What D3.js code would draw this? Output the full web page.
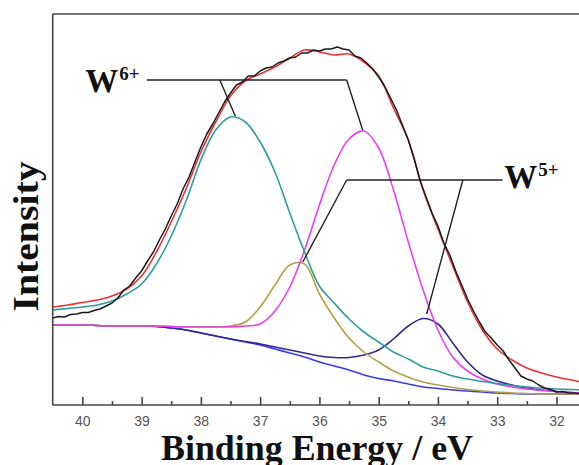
<!DOCTYPE html>
<html>
<head>
<meta charset="utf-8">
<script src="https://cdn.jsdelivr.net/npm/d3@7"></script>
<style>
  html, body { margin: 0; padding: 0; background: #fff; }
  svg { display: block; }
</style>
</head>
<body>
<svg id="chart" width="579" height="465"></svg>
<script>
// ---------- data (binding energy in eV, intensity in arbitrary units) ----------
const energy = [40.5, 40.25, 40.0, 39.75, 39.5, 39.25, 39.0, 38.75, 38.5, 38.25, 38.0, 37.75,
  37.5, 37.25, 37.0, 36.75, 36.5, 36.25, 36.0, 35.75, 35.5, 35.25, 35.0, 34.75, 34.5, 34.25,
  34.0, 33.75, 33.5, 33.25, 33.0, 32.75, 32.5, 32.25, 32.0, 31.75, 31.5];

const background = [80, 80, 80, 79.5, 79, 79, 79, 78.5, 77, 75, 72, 69, 66, 63, 60, 56, 52, 48,
  43, 39, 35, 30, 26.5, 24, 21, 18, 16.5, 15, 14, 13, 12, 11.5, 11, 11, 11, 11, 11];

// W5+ 4f5/2 component (navy)
const w5b = [80, 80, 80, 79.5, 79, 79, 79, 78.5, 77, 75, 72, 69, 66, 63.5, 61, 58, 55, 52, 49,
  47.5, 47.5, 50, 55, 66, 79, 86.5, 81, 62, 43, 30, 24, 20, 17, 15, 13.5, 12.5, 12];

// W5+ 4f7/2 component (olive)
const w5a = [80, 80, 80, 79.5, 79, 79, 79, 79, 78.5, 78, 78, 78, 79, 83, 98, 120, 140, 141, 111,
  87, 67, 53, 43, 34, 28, 23, 20, 17.5, 15.5, 14, 13, 12, 11.5, 11, 11, 11, 11];

// W6+ 4f5/2 component (magenta)
const w6b = [80, 80, 80, 79.5, 79, 79, 79, 79, 78.5, 78, 78, 78, 78, 79, 81, 94, 118, 155, 200,
  240, 266, 274, 257, 215, 163, 115, 75, 48, 34, 26, 21, 18, 16, 14.5, 13.5, 12.5, 12];

// W6+ 4f7/2 component (teal)
const w6a = [95, 96.5, 98, 100, 104, 111, 121, 141, 169, 204, 245, 275, 288, 283, 263, 233, 192,
  153, 119, 102, 86, 73, 63, 53, 46, 38, 34, 29, 26, 23.5, 21.5, 19.5, 18, 17, 16, 15.5, 15];

// fitted envelope (red)
const envelope = [98, 100, 102.5, 105, 109, 116, 129, 153, 183, 216, 253, 283, 309, 324, 331, 338,
  347, 355, 353, 350, 351, 343, 329, 297, 265, 215, 176, 139, 103, 75, 56, 45, 37, 32, 28, 25, 22];

// measured spectrum (black)
const rawEnergy = [40.5, 40.4, 40.3, 40.2, 40.1, 40.0, 39.9, 39.8, 39.7, 39.6,
  39.5, 39.4, 39.3, 39.2, 39.1, 39.0, 38.9, 38.8, 38.7, 38.6,
  38.5, 38.4, 38.3, 38.2, 38.1, 38.0, 37.9, 37.8, 37.7, 37.6,
  37.5, 37.4, 37.3, 37.2, 37.1, 37.0, 36.9, 36.8, 36.7, 36.6,
  36.5, 36.4, 36.3, 36.2, 36.1, 36.0, 35.9, 35.8, 35.7, 35.6,
  35.5, 35.4, 35.3, 35.2, 35.1, 35.0, 34.9, 34.8, 34.7, 34.6,
  34.5, 34.4, 34.3, 34.2, 34.1, 34.0, 33.9, 33.8, 33.7, 33.6,
  33.5, 33.4, 33.3, 33.2, 33.1, 33.0, 32.9, 32.8, 32.7, 32.6,
  32.5, 32.4, 32.3, 32.2, 32.1, 32.0, 31.9, 31.8, 31.7, 31.6];
const rawCounts = [87, 88.5, 88, 90.5, 91, 92.5, 92.5, 94.5, 96, 99,
  102, 107, 115, 119, 127, 134, 144, 153, 165, 176,
  189, 201, 216, 228, 243, 258, 271, 281, 292, 303,
  312, 320, 323, 329, 329, 334, 337, 338, 342, 344,
  347, 348, 352, 352, 355, 354, 356, 356, 358, 356,
  355, 349, 347, 342, 336, 328, 319, 307, 295, 280,
  265, 246, 224, 208, 192, 179, 162, 150, 134, 120,
  106, 94, 83, 73, 67, 60, 54, 45, 37, 29,
  26, 24, 20, 17, 15.5, 13, 13.5, 12, 12, 11.5];

const xTicks = [40, 39, 38, 37, 36, 35, 34, 33, 32];
const xMinorTicks = [39.5, 38.5, 37.5, 36.5, 35.5, 34.5, 33.5, 32.5];

// annotation anchors (energy, intensity)
const w6Line = [[38.91, 325], [35.54, 325]];
const w6Leaders = [[[37.68, 325], [37.42, 289]], [[35.54, 325], [35.27, 275]]];
const w5Line = [[35.54, 225], [32.91, 225]];
const w5Leaders = [[[35.54, 225], [36.28, 143]], [[33.58, 225], [34.19, 91]]];
const labels = [
  { base: "W", sup: "6+", e: 39.95, v: 313 },
  { base: "W", sup: "5+", e: 32.88, v: 217 }
];

// ---------- drawing ----------
const svg = d3.select("#chart");
const L = 52.7, R = 579, T = 14, B = 405;
const x = d3.scaleLinear().domain([40.5, 31.62]).range([L, R]);
const y = d3.scaleLinear().domain([0, 391]).range([B, T]);

svg.append("defs").append("clipPath").attr("id", "plotclip")
  .append("rect").attr("x", L).attr("y", T).attr("width", R - L + 10).attr("height", B - T);

const plot = svg.append("g").attr("clip-path", "url(#plotclip)");

const smooth = d3.line().x(d => x(d[0])).y(d => y(d[1])).curve(d3.curveCatmullRom.alpha(0.5));
const jag = d3.line().x(d => x(d[0])).y(d => y(d[1]));

const series = [
  { vals: background, color: "#3b3bea" },
  { vals: w5b, color: "#33288f" },
  { vals: w5a, color: "#b0a24a" },
  { vals: w6b, color: "#ea3ff0" },
  { vals: w6a, color: "#2f9d9e" },
  { vals: envelope, color: "#ea3434" }
];
series.forEach(s => {
  plot.append("path")
    .attr("d", smooth(energy.map((e, i) => [e, s.vals[i]])))
    .attr("fill", "none").attr("stroke", s.color).attr("stroke-width", 1.6);
});
plot.append("path")
  .attr("d", jag(rawEnergy.map((e, i) => [e, rawCounts[i]])))
  .attr("fill", "none").attr("stroke", "#1b1b1b").attr("stroke-width", 1.5)
  .attr("stroke-linejoin", "round");

// annotations
const ann = svg.append("g").attr("stroke", "#222").attr("stroke-width", 1.4).attr("fill", "none");
[w6Line, ...w6Leaders, w5Line, ...w5Leaders].forEach(seg => {
  ann.append("path").attr("d", jag(seg));
});
labels.forEach(l => {
  const t = svg.append("text")
    .attr("x", x(l.e)).attr("y", y(l.v))
    .attr("font-family", "'Liberation Serif', 'Times New Roman', serif")
    .attr("font-weight", "bold").attr("fill", "#111");
  t.append("tspan").attr("font-size", 33).text(l.base);
  t.append("tspan").attr("font-size", 19).attr("dy", -12).attr("dx", 1).text(l.sup);
});

// axes frame
const frame = svg.append("g").attr("stroke", "#454545").attr("stroke-width", 1.6).attr("fill", "none");
frame.append("line").attr("x1", L).attr("x2", L).attr("y1", T).attr("y2", B);
frame.append("line").attr("x1", L).attr("x2", R).attr("y1", T).attr("y2", T);
frame.append("line").attr("x1", L).attr("x2", R).attr("y1", B).attr("y2", B);

const xAxis = d3.axisBottom(x).tickValues(xTicks).tickSizeInner(-8).tickSizeOuter(0)
  .tickPadding(11).tickFormat(d3.format("d"));
const gx = svg.append("g").attr("transform", `translate(0,${B})`).call(xAxis);
gx.select(".domain").remove();
gx.selectAll(".tick line").attr("stroke", "#454545").attr("stroke-width", 1.6);
gx.selectAll(".tick text").attr("fill", "#555").attr("font-size", 14)
  .attr("font-family", "'Liberation Sans', Arial, sans-serif");
const xMinorAxis = d3.axisBottom(x).tickValues(xMinorTicks).tickSizeInner(-4).tickSizeOuter(0).tickFormat("");
const gm = svg.append("g").attr("transform", `translate(0,${B})`).call(xMinorAxis);
gm.select(".domain").remove();
gm.selectAll(".tick line").attr("stroke", "#454545").attr("stroke-width", 1.6);

// axis titles
svg.append("text").attr("x", 317).attr("y", 460).attr("text-anchor", "middle")
  .attr("font-family", "'Liberation Serif', 'Times New Roman', serif").attr("font-weight", "bold")
  .attr("font-size", 35).attr("fill", "#111")
  .attr("textLength", 312).attr("lengthAdjust", "spacingAndGlyphs").text("Binding Energy / eV");
svg.append("text").attr("transform", "translate(38,236.5) rotate(-90)").attr("text-anchor", "middle")
  .attr("font-family", "'Liberation Serif', 'Times New Roman', serif").attr("font-weight", "bold")
  .attr("font-size", 36).attr("fill", "#111")
  .attr("textLength", 150).attr("lengthAdjust", "spacingAndGlyphs").text("Intensity");
</script>
</body>
</html>
